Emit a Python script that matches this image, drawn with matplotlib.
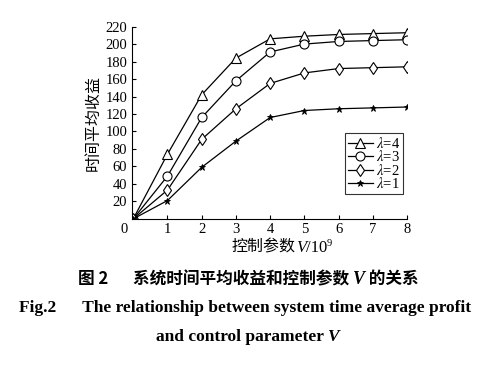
import matplotlib
matplotlib.use("Agg")
import matplotlib.pyplot as plt

plt.rcParams['font.family'] = ['Liberation Serif', 'Noto Sans CJK SC']
plt.rcParams['mathtext.fontset'] = 'stix'

# 控制参数 V (x10^9) 与时间平均收益
V = [0, 1, 2, 3, 4, 5, 6, 7, 8]
lam4 = [0, 74, 142, 184, 206, 209, 211, 212, 213]
lam3 = [0, 49, 116, 158, 191, 200, 203, 204, 205]
lam2 = [0, 33, 91, 126, 155, 167, 172, 173, 174]
lam1 = [0, 21, 59, 89, 116, 124, 126, 127, 128]

W, H = 502, 380
fig = plt.figure(figsize=(W / 100, H / 100), dpi=100)
ax = fig.add_axes([0.262, 0.424, 0.549, 0.506])

ax.plot(V, lam4, color='k', lw=0.9, marker='^', ms=6.5, mfc='white', mec='k', mew=0.8, label=r'$\lambda$=4')
ax.plot(V, lam3, color='k', lw=0.9, marker='o', ms=6.5, mfc='white', mec='k', mew=0.8, label=r'$\lambda$=3')
ax.plot(V, lam2, color='k', lw=0.9, marker='d', ms=6.5, mfc='white', mec='k', mew=0.8, label=r'$\lambda$=2')
ax.plot(V, lam1, color='k', lw=0.9, marker='*', ms=5, mfc='k', mec='k', mew=0.6, label=r'$\lambda$=1')

ax.set_xlim(-0.05, 8)
ax.set_ylim(0, 220)
ax.set_xticks(range(1, 9))
ax.set_yticks(range(20, 221, 20))
ax.tick_params(direction='in', length=3, width=0.8, labelsize=10.5, pad=3)
ax.spines['top'].set_visible(False)
ax.spines['right'].set_visible(False)
for s in ['left', 'bottom']:
    ax.spines[s].set_linewidth(0.8)
ax.annotate('0', xy=(-0.05, 0), xytext=(-5, -3), textcoords='offset points',
            ha='center', va='top', fontsize=10.5)

ax.set_ylabel('时间平均收益', fontsize=11.5, labelpad=3)

leg = ax.legend(loc='lower right', bbox_to_anchor=(1.0, 0.105), fontsize=10.5,
                frameon=True, fancybox=False, edgecolor='k', handlelength=1.7,
                handletextpad=0.2, borderpad=0.2, labelspacing=-0.1, borderaxespad=0.3)
leg.get_frame().set_linewidth(0.8)

renderer = fig.canvas.get_renderer()


def pieces_line(xc, ypx, pieces):
    # draw a row of text pieces with different fonts, centred at xc (pixels)
    # piece = (text, props[, dy[, dx]])  dx = extra space before the piece
    texts = []
    for p in pieces:
        s, kw = p[0], p[1]
        dy = p[2] if len(p) > 2 else 0
        dx = p[3] if len(p) > 3 else 0
        t = fig.text(0, 0, s, va='baseline', ha='left', **kw)
        texts.append((t, dy, dx))
    widths = [t.get_window_extent(renderer).width for t, _, _ in texts]
    total = sum(widths) + sum(dx for _, _, dx in texts)
    x = xc - total / 2
    for (t, dy, dx), w in zip(texts, widths):
        x += dx
        t.set_position((x / W, 1 - (ypx - dy) / H))
        x += w


cjk = dict(family=['Noto Sans CJK SC'])
ser = dict(family=['Liberation Serif'])
serit = dict(family=['Liberation Serif'], style='italic')

pieces_line(282, 252, [
    ('控制参数', dict(cjk, fontsize=11.5)),
    ('V', dict(serit, fontsize=12)),
    ('/10', dict(ser, fontsize=12)),
    ('9', dict(ser, fontsize=7.5), 6),
])

pieces_line(248, 284, [
    ('图 2', dict(cjk, fontsize=12, fontweight='bold')),
    ('\u2003  ', dict(ser, fontsize=12)),
    ('系统时间平均收益和控制参数 ', dict(cjk, fontsize=12, fontweight='bold')),
    ('V', dict(serit, fontsize=13, fontweight='bold')),
    (' 的关系', dict(cjk, fontsize=12, fontweight='bold')),
])
pieces_line(245, 312, [
    ('Fig.2      The relationship between system time average profit', dict(ser, fontsize=12.5, fontweight='bold')),
])
pieces_line(248, 341, [
    ('and control parameter ', dict(ser, fontsize=12.5, fontweight='bold')),
    ('V', dict(serit, fontsize=12.5, fontweight='bold')),
])

fig.savefig('out.png', dpi=100)
